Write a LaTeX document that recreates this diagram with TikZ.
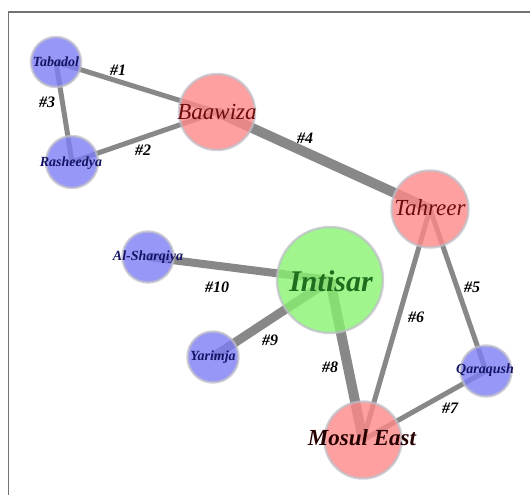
\documentclass[tikz,border=0pt]{standalone}
\usepackage{fontspec}
\setmainfont{Liberation Serif}
\pgfdeclarelayer{bg}
\pgfsetlayers{bg,main}
\definecolor{edgegray}{RGB}{136,136,136}
\definecolor{bluefill}{RGB}{125,125,246}
\definecolor{redfill}{RGB}{255,136,136}
\definecolor{greenfill}{RGB}{136,242,111}
\definecolor{nodeedge}{RGB}{190,190,200}
\definecolor{navytext}{RGB}{20,20,100}
\definecolor{redtext}{RGB}{110,12,12}
\definecolor{greentext}{RGB}{30,110,30}
\begin{document}
\begin{tikzpicture}[x=1pt,y=-1pt,
  nd/.style={circle,inner sep=0pt,draw=nodeedge,line width=2.5pt,draw opacity=0.7,fill opacity=0.8},
  bluend/.style={nd,fill=bluefill},
  rednd/.style={nd,fill=redfill},
  smtxt/.style={inner sep=0pt,text=navytext,font=\fontsize{14}{14}\selectfont\bfseries\itshape},
  bigtxt/.style={inner sep=0pt,font=\fontsize{23}{23}\selectfont\itshape},
  edge/.style={draw=edgegray,line width=#1},
  elab/.style={font=\fontsize{16}{16}\selectfont\bfseries\itshape,text=black,inner sep=0pt}]
\useasboundingbox (0,0) rectangle (530,495);
\draw[draw=gray!90!black,line width=1.4pt] (8.5,495) -- (8.5,12) -- (530,12);
% nodes
\node[bluend,minimum size=50] (tab) at (56,62) {};
\node[bluend,minimum size=52] (ras) at (72,162) {};
\node[rednd,minimum size=76] (baa) at (217,112) {};
\node[rednd,minimum size=77] (tah) at (430,209) {};
\node[nd,fill=greenfill,minimum size=106] (int) at (330,280) {};
\node[bluend,minimum size=51] (sha) at (148,257) {};
\node[bluend,minimum size=51] (yar) at (213,357) {};
\node[bluend,minimum size=51] (qar) at (486,371) {};
\node[rednd,minimum size=77] (mos) at (363,440) {};
% node texts
\node[smtxt] (ttab) at (tab) {Tabadol};
\node[smtxt] (tras) at (71,163) {Rasheedya};
\node[bigtxt,text=redtext] (tbaa) at (217,112) {Baawiza};
\node[bigtxt,text=redtext] (ttah) at (430,208) {Tahreer};
\node[inner sep=0pt,text=greentext,font=\fontsize{30}{30}\selectfont\bfseries\itshape] (tint) at (331,281) {Intisar};
\node[smtxt] (tsha) at (148,257) {Al-Sharqiya};
\node[smtxt] (tyar) at (213,357) {Yarimja};
\node[smtxt] (tqar) at (485,370) {Qaraqush};
\node[bigtxt,text=black!85!red,font=\fontsize{23}{23}\selectfont\bfseries\itshape] (tmos) at (362,438) {Mosul East};
% edges
\begin{pgfonlayer}{bg}
\draw[edge=5pt] (tab.center) -- (baa.center);
\draw[edge=5pt] (ras.center) -- (baa.center);
\draw[edge=5pt] (tab.center) -- (ras.center);
\draw[edge=10pt] (baa.center) -- (tah.center);
\draw[edge=5pt] (tah.center) -- (qar.center);
\draw[edge=5pt] (tah.center) -- (mos.center);
\draw[edge=5pt] (qar.center) -- (mos.center);
\draw[edge=10pt] (int.center) -- (mos.center);
\draw[edge=9pt] (int.center) -- (yar.center);
\draw[edge=8pt] (int.center) -- (sha.center);
\end{pgfonlayer}
% edge labels
\node[elab] (l1) at (118,70) {\#1};
\node[elab] (l2) at (143,150) {\#2};
\node[elab] (l3) at (47,102) {\#3};
\node[elab] (l4) at (305,138) {\#4};
\node[elab] (l5) at (472,287) {\#5};
\node[elab] (l6) at (416,317) {\#6};
\node[elab] (l7) at (450,408) {\#7};
\node[elab] (l8) at (330,367) {\#8};
\node[elab] (l9) at (270,340) {\#9};
\node[elab] (l10) at (217,287) {\#10};
\end{tikzpicture}
\end{document}
